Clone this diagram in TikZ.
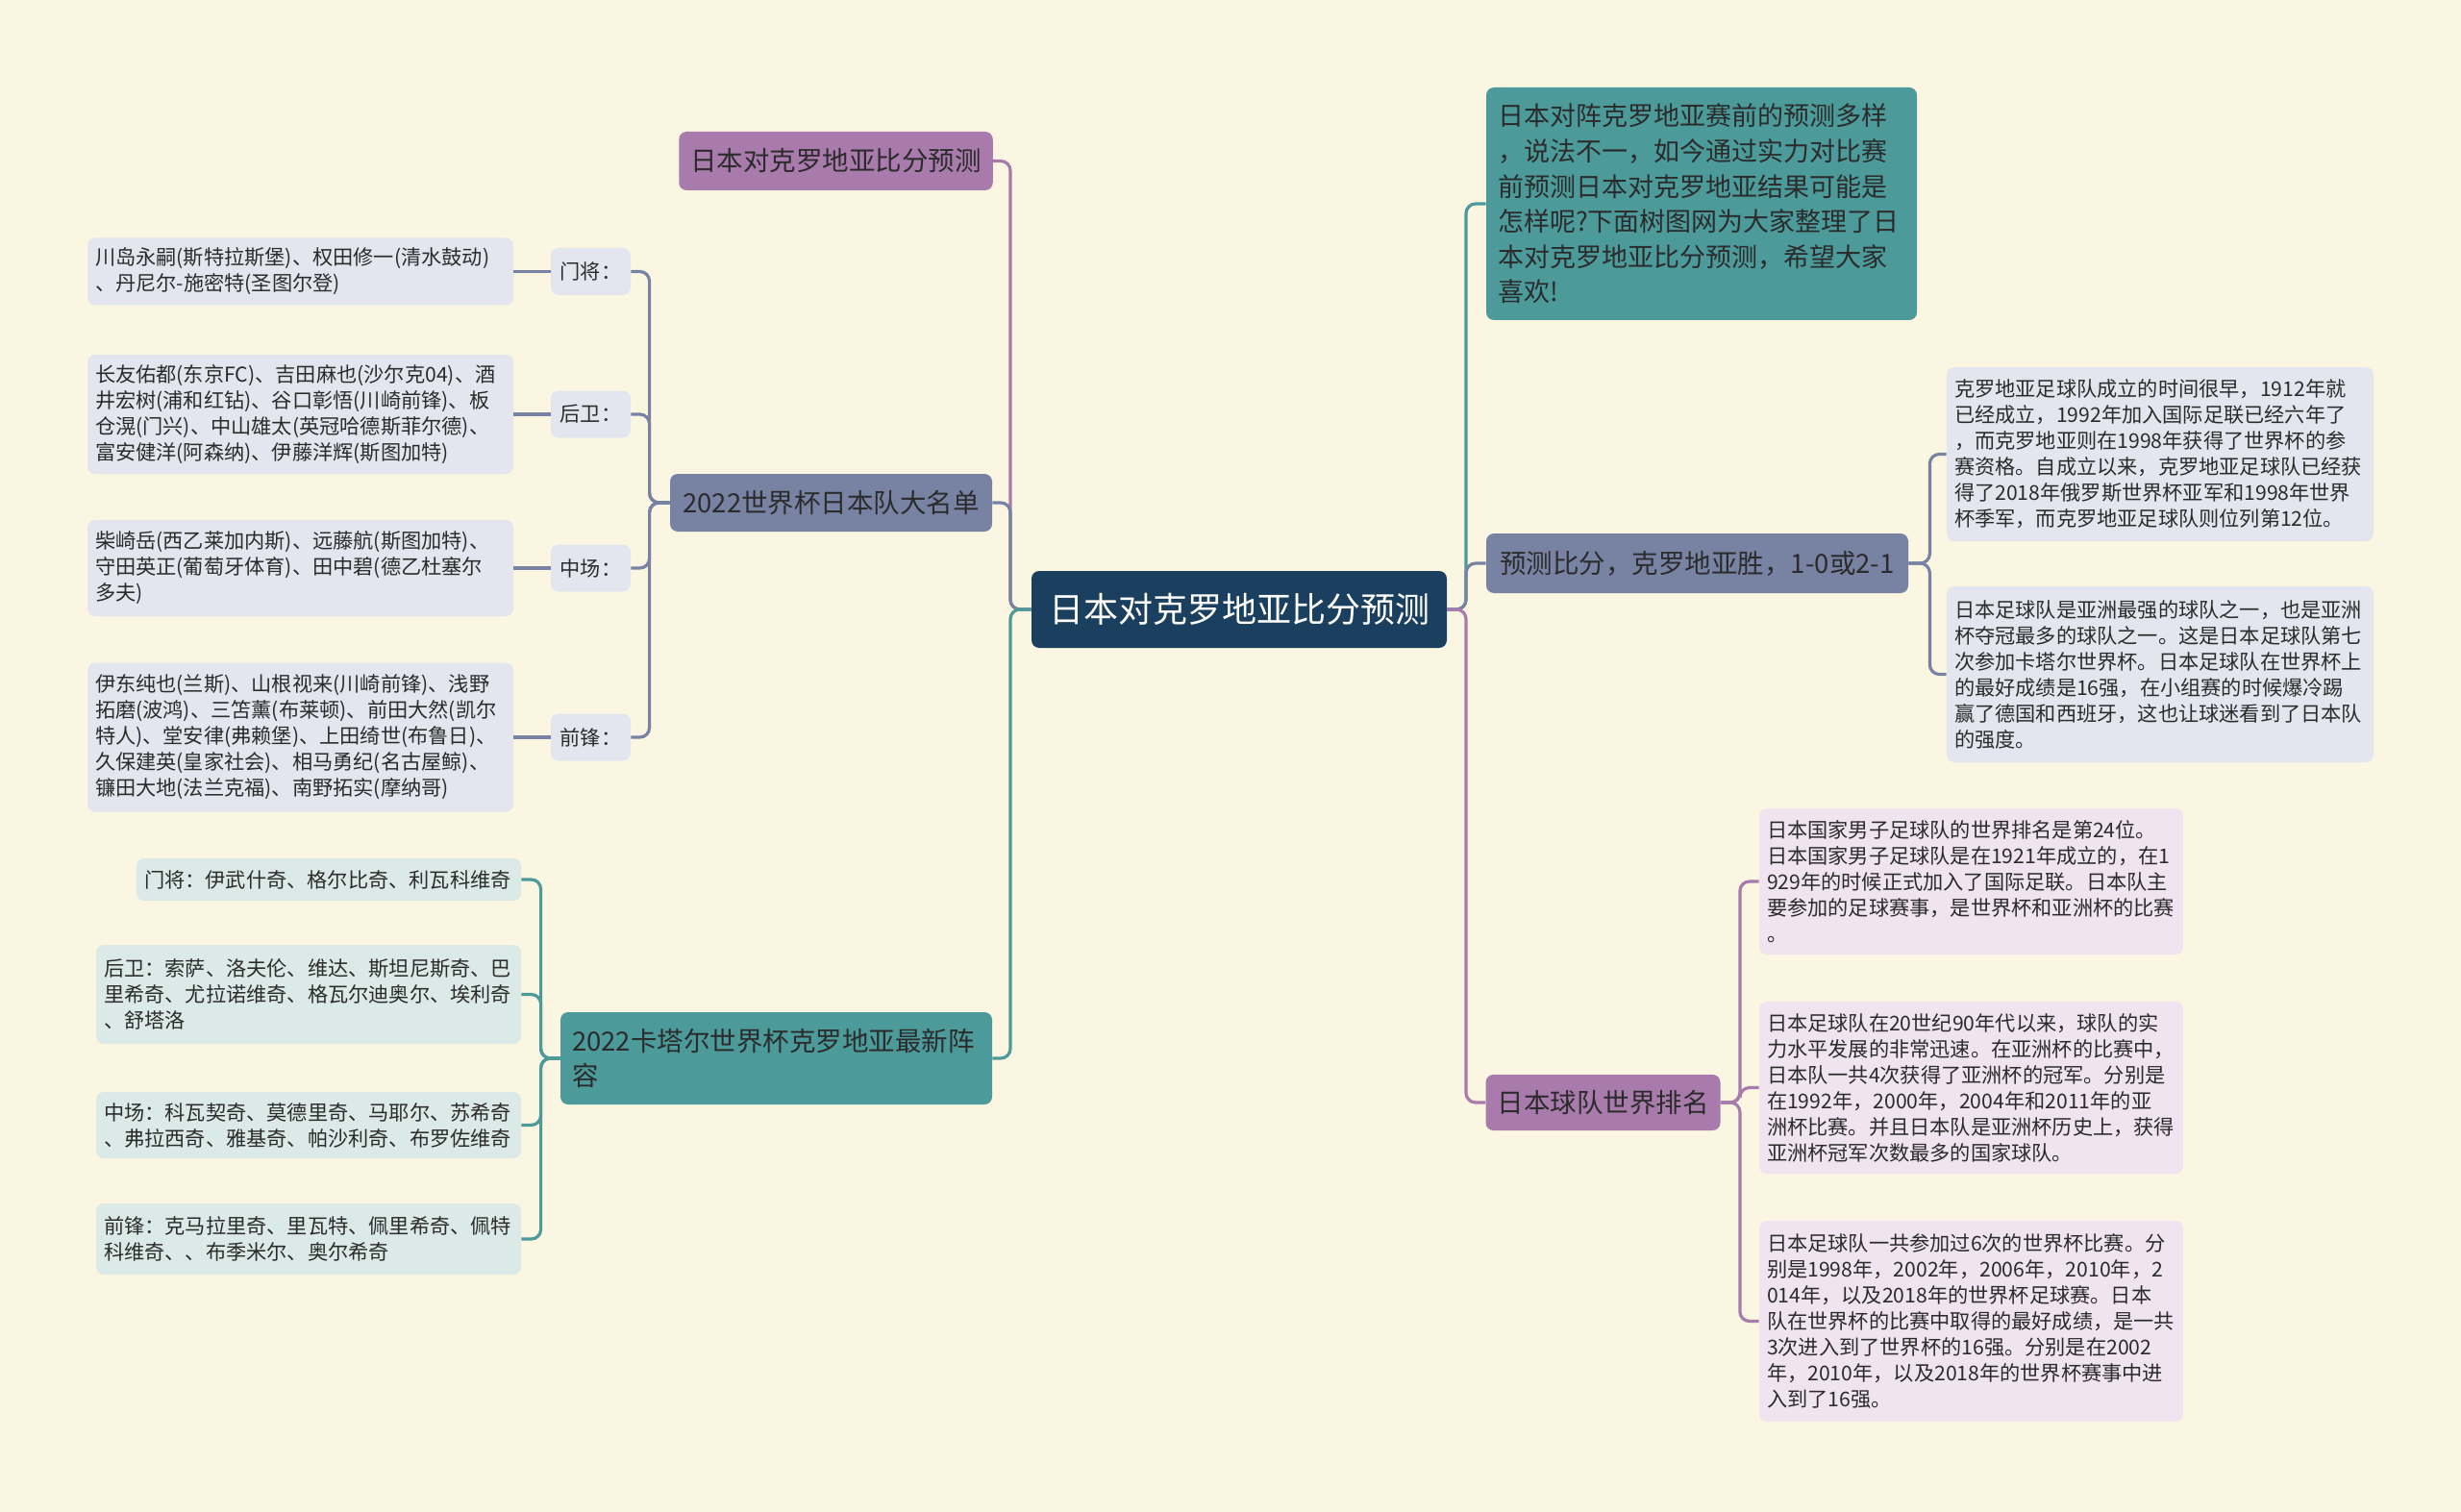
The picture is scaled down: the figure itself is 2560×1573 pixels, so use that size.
\documentclass[tikz,border=0pt]{standalone}
\usepackage{fontspec}
\setmainfont{Noto Sans CJK SC}

\definecolor{bg}{HTML}{FAF6E2}
\definecolor{navy}{HTML}{1B3F5E}
\definecolor{plum}{HTML}{A97AAC}
\definecolor{slate}{HTML}{7883A4}
\definecolor{sea}{HTML}{4C9A9A}
\definecolor{slatel}{HTML}{E3E6EE}
\definecolor{seal}{HTML}{DBEAE7}
\definecolor{pluml}{HTML}{EFE4EF}
\definecolor{ink}{HTML}{2B2B2B}

\begin{document}
\begin{tikzpicture}[x=0.5pt, y=-0.5pt,
    rootbox/.style={fill=navy, text=white, rounded corners=4pt, align=center,
        font=\fontsize{18}{22}\selectfont},
    topicbox/.style={rounded corners=4pt, inner xsep=6pt, inner ysep=0pt, align=left,
        text=ink, font=\fontsize{13.75}{18}\selectfont},
    tagbox/.style={fill=slatel, rounded corners=4pt, align=center, text=ink,
        font=\fontsize{10.6}{13.5}\selectfont, minimum width=41.5pt, minimum height=24.5pt},
    leafbox/.style={rounded corners=4pt, inner xsep=4pt, inner ysep=0pt, align=left,
        text=ink, font=\fontsize{10.6}{13.5}\selectfont},
    link/.style={line width=1.6pt, rounded corners=5pt}]

    \fill[bg] (0,0) rectangle (2560,1573);
    \useasboundingbox (0,0) rectangle (2560,1573);

    \node[rootbox, minimum width=216pt, minimum height=40pt] (root) at (1289,634) {日本对克罗地亚比分预测};

    \node[topicbox, fill=plum, align=center, minimum width=162.5pt, minimum height=30.5pt] (l1) at (869.5,167.5) {日本对克罗地亚比分预测};
    \node[topicbox, fill=slate, align=center, minimum width=167.5pt, minimum height=30pt] (l2) at (864.5,523) {2022世界杯日本队大名单};
    \node[topicbox, fill=sea, text width=212.5pt, minimum height=48pt] (l3) at (807.5,1101) {2022卡塔尔世界杯克罗地亚最新阵\\容};

    \node[tagbox] (g1) at (614.5,282.5) {门将：};
    \node[tagbox] (g2) at (614.5,431) {后卫：};
    \node[tagbox] (g3) at (614.5,591) {中场：};
    \node[tagbox] (g4) at (614.5,767) {前锋：};

    \node[leafbox, fill=slatel, text width=213.5pt, minimum height=35pt] (lg1) at (312.5,282.5) {川岛永嗣(斯特拉斯堡)、权田修一(清水鼓动)\\、丹尼尔-施密特(圣图尔登)};
    \node[leafbox, fill=slatel, text width=213.5pt, minimum height=62pt] (lg2) at (312.5,431) {长友佑都(东京FC)、吉田麻也(沙尔克04)、酒\\井宏树(浦和红钻)、谷口彰悟(川崎前锋)、板\\仓滉(门兴)、中山雄太(英冠哈德斯菲尔德)、\\富安健洋(阿森纳)、伊藤洋辉(斯图加特)};
    \node[leafbox, fill=slatel, text width=213.5pt, minimum height=50pt] (lg3) at (312.5,591) {柴崎岳(西乙莱加内斯)、远藤航(斯图加特)、\\守田英正(葡萄牙体育)、田中碧(德乙杜塞尔\\多夫)};
    \node[leafbox, fill=slatel, text width=213.5pt, minimum height=77.5pt] (lg4) at (312.5,767) {伊东纯也(兰斯)、山根视来(川崎前锋)、浅野\\拓磨(波鸿)、三笘薰(布莱顿)、前田大然(凯尔\\特人)、堂安律(弗赖堡)、上田绮世(布鲁日)、\\久保建英(皇家社会)、相马勇纪(名古屋鲸)、\\镰田大地(法兰克福)、南野拓实(摩纳哥)};

    \node[leafbox, fill=seal, text width=192pt, minimum height=22pt] (t1) at (342,915) {门将：伊武什奇、格尔比奇、利瓦科维奇};
    \node[leafbox, fill=seal, text width=213pt, minimum height=51.5pt] (t2) at (321,1034.5) {后卫：索萨、洛夫伦、维达、斯坦尼斯奇、巴\\里希奇、尤拉诺维奇、格瓦尔迪奥尔、埃利奇\\、舒塔洛};
    \node[leafbox, fill=seal, text width=213pt, minimum height=34.5pt] (t3) at (321,1170.5) {中场：科瓦契奇、莫德里奇、马耶尔、苏希奇\\、弗拉西奇、雅基奇、帕沙利奇、布罗佐维奇};
    \node[leafbox, fill=seal, text width=213pt, minimum height=37pt] (t4) at (321,1289) {前锋：克马拉里奇、里瓦特、佩里希奇、佩特\\科维奇、、布季米尔、奥尔希奇};

    \node[topicbox, fill=sea, text width=212pt, minimum height=121pt, font=\fontsize{13.5}{18.3}\selectfont] (r1) at (1770,212) {日本对阵克罗地亚赛前的预测多样\\，说法不一，如今通过实力对比赛\\前预测日本对克罗地亚结果可能是\\怎样呢?下面树图网为大家整理了日\\本对克罗地亚比分预测，希望大家\\喜欢!};
    \node[topicbox, fill=slate, align=center, minimum width=219.5pt, minimum height=31pt] (r2) at (1765.5,586) {预测比分，克罗地亚胜，1-0或2-1};
    \node[topicbox, fill=plum, align=center, minimum width=121.5pt, minimum height=29pt] (r3) at (1667.5,1147) {日本球队世界排名};

    \node[leafbox, fill=slatel, text width=214pt, minimum height=90.5pt] (ra1) at (2247,472.5) {克罗地亚足球队成立的时间很早，1912年就\\已经成立，1992年加入国际足联已经六年了\\，而克罗地亚则在1998年获得了世界杯的参\\赛资格。自成立以来，克罗地亚足球队已经获\\得了2018年俄罗斯世界杯亚军和1998年世界\\杯季军，而克罗地亚足球队则位列第12位。};
    \node[leafbox, fill=slatel, text width=214pt, minimum height=91.5pt] (ra2) at (2247,701.5) {日本足球队是亚洲最强的球队之一，也是亚洲\\杯夺冠最多的球队之一。这是日本足球队第七\\次参加卡塔尔世界杯。日本足球队在世界杯上\\的最好成绩是16强，在小组赛的时候爆冷踢\\赢了德国和西班牙，这也让球迷看到了日本队\\的强度。};

    \node[leafbox, fill=pluml, text width=212.5pt, minimum height=76pt] (rp1) at (2050.5,917) {日本国家男子足球队的世界排名是第24位。\\日本国家男子足球队是在1921年成立的，在1\\929年的时候正式加入了国际足联。日本队主\\要参加的足球赛事，是世界杯和亚洲杯的比赛\\。};
    \node[leafbox, fill=pluml, text width=212.5pt, minimum height=89.5pt] (rp2) at (2050.5,1131.5) {日本足球队在20世纪90年代以来，球队的实\\力水平发展的非常迅速。在亚洲杯的比赛中，\\日本队一共4次获得了亚洲杯的冠军。分别是\\在1992年，2000年，2004年和2011年的亚\\洲杯比赛。并且日本队是亚洲杯历史上，获得\\亚洲杯冠军次数最多的国家球队。};
    \node[leafbox, fill=pluml, text width=212.5pt, minimum height=104.5pt] (rp3) at (2050.5,1374.5) {日本足球队一共参加过6次的世界杯比赛。分\\别是1998年，2002年，2006年，2010年，2\\014年，以及2018年的世界杯足球赛。日本\\队在世界杯的比赛中取得的最好成绩，是一共\\3次进入到了世界杯的16强。分别是在2002\\年，2010年，以及2018年的世界杯赛事中进\\入到了16强。};

    \coordinate (lt) at (1051,634);
    \coordinate (rt) at (1525,634);

    \draw[link, plum] (root.west) -- (lt) |- (l1.east);
    \draw[link, slate] (root.west) -- (lt) |- (l2.east);
    \draw[link, sea] (root.west) -- (lt) |- (l3.east);
    \draw[link, sea] (root.east) -- (rt) |- (r1.west);
    \draw[link, slate] (root.east) -- (rt) |- (r2.west);
    \draw[link, plum] (root.east) -- (rt) |- (r3.west);

    \draw[link, slate] (l2.west) -- ++(-21,0) |- (g1.east);
    \draw[link, slate] (l2.west) -- ++(-21,0) |- (g2.east);
    \draw[link, slate] (l2.west) -- ++(-21,0) |- (g3.east);
    \draw[link, slate] (l2.west) -- ++(-21,0) |- (g4.east);
    \draw[link, slate] (g1) -- (lg1);
    \draw[link, slate] (g2) -- (lg2);
    \draw[link, slate] (g3) -- (lg3);
    \draw[link, slate] (g4) -- (lg4);

    \draw[link, sea] (l3.west) -- ++(-20,0) |- (t1.east);
    \draw[link, sea] (l3.west) -- ++(-20,0) |- (t2.east);
    \draw[link, sea] (l3.west) -- ++(-20,0) |- (t3.east);
    \draw[link, sea] (l3.west) -- ++(-20,0) |- (t4.east);

    \draw[link, slate] (r2.east) -- ++(22,0) |- (ra1.west);
    \draw[link, slate] (r2.east) -- ++(22,0) |- (ra2.west);

    \draw[link, plum] (r3.east) -- ++(20,0) |- (rp1.west);
    \draw[link, plum] (r3.east) -- ++(20,0) |- (rp2.west);
    \draw[link, plum] (r3.east) -- ++(20,0) |- (rp3.west);
\end{tikzpicture}
\end{document}
